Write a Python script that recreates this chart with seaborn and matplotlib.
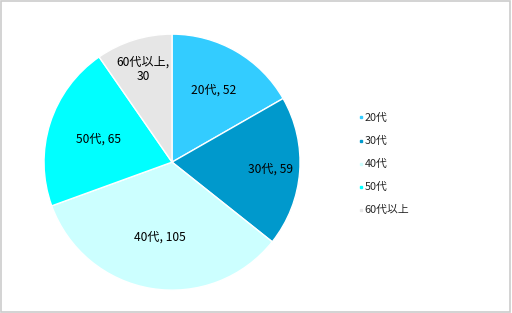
import numpy as np
import matplotlib
matplotlib.use("Agg")
import matplotlib.pyplot as plt
import seaborn as sns

categories = ["20代", "30代", "40代", "50代", "60代以上"]
values = [52, 59, 105, 65, 30]
colors = ["#33CCFF", "#0099CC", "#CCFFFF", "#00FFFF", "#E6E6E6"]

sns.set_theme(style="white")
plt.rcParams['font.family'] = ['Noto Sans CJK JP', 'DejaVu Sans']

fig = plt.figure(figsize=(5.12, 3.13), dpi=100)
fig.patch.set_facecolor("white")
fig.patches.append(plt.Rectangle((0.002, 0.003), 0.995, 0.994, transform=fig.transFigure,
                                 fill=False, edgecolor="#CCCCCC", linewidth=1.2))

ax = fig.add_axes([0.336 - 0.25, 0.482 - 0.409, 0.5, 0.818])
wedges, _ = ax.pie(values, colors=colors, startangle=90, counterclock=False,
                   wedgeprops=dict(edgecolor="white", linewidth=1.0), labels=None)
ax.set_xlim(-1, 1)
ax.set_ylim(-1, 1)
ax.set_aspect("equal")

label_r = [0.65, 0.77, 0.59, 0.6, 0.76]
for w, cat, v, r in zip(wedges, categories, values, label_r):
    ang = np.deg2rad((w.theta1 + w.theta2) / 2)
    x, y = r * np.cos(ang), r * np.sin(ang)
    txt = f"{cat}, {v}" if cat != "60代以上" else f"{cat},\n{v}"
    ax.text(x, y, txt, ha="center", va="center", fontsize=8.7, color="#000000",
            linespacing=1.1)

handles = [plt.Line2D([0], [0], marker="s", linestyle="", markersize=2,
                      markerfacecolor=c, markeredgecolor=c) for c in colors]
fig.legend(handles, categories, loc="center left", bbox_to_anchor=(0.68, 0.475),
           frameon=False, fontsize=7.8, handletextpad=0.1, labelspacing=1.2,
           handlelength=0.5)

fig.savefig("out.png", dpi=100)
